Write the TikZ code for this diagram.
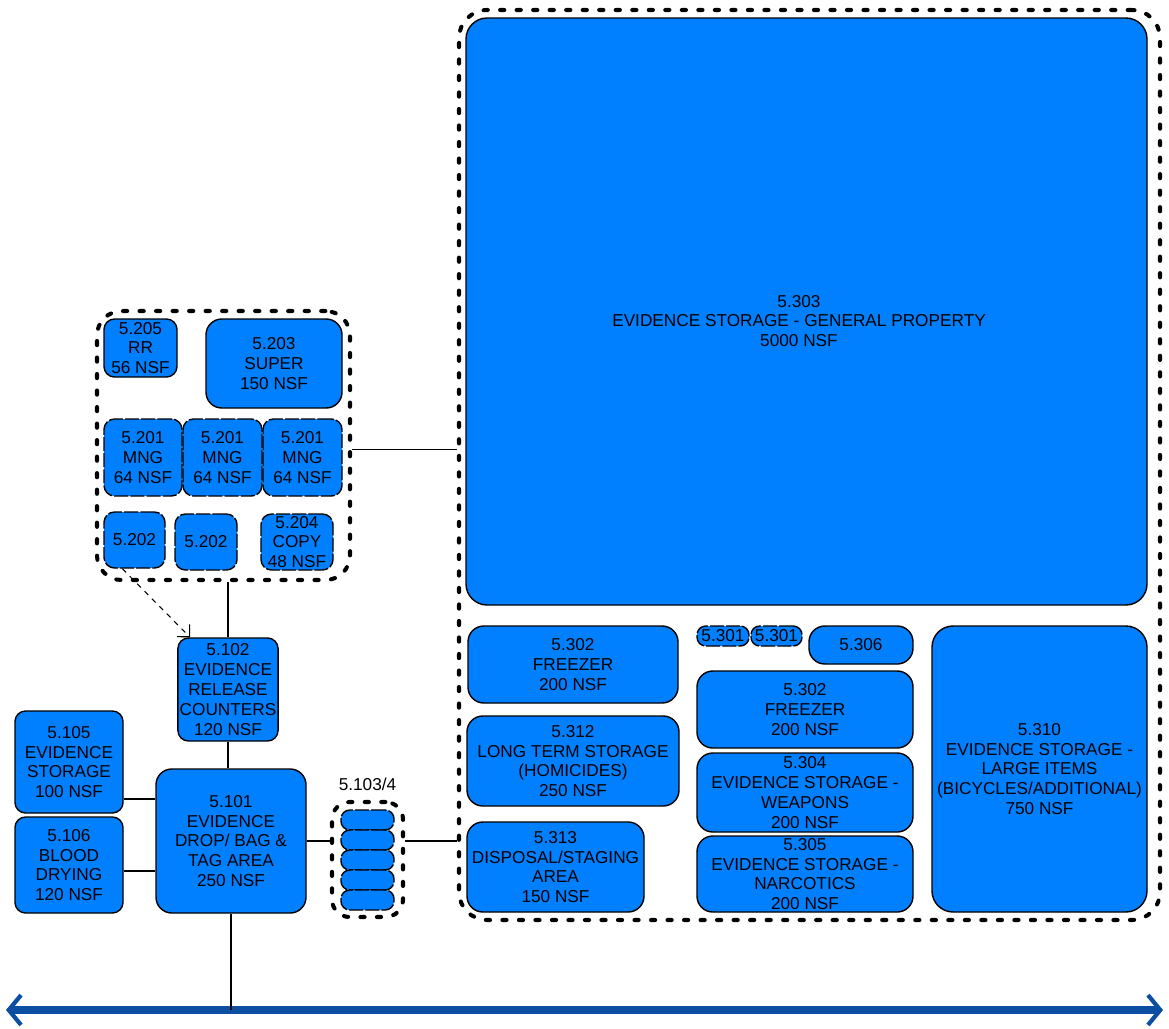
\documentclass[tikz,border=0pt]{standalone}
\usepackage{fontspec}
\setmainfont{Liberation Sans}
\usetikzlibrary{arrows.meta}

\definecolor{roomblue}{HTML}{0080FF}
\definecolor{roadblue}{HTML}{0B4EA2}

\newdimen\unitpx
\unitpx=0.02cm

\begin{document}
\begin{tikzpicture}[
  x=0.02cm, y=-0.02cm,
  font=\fontsize{9.8}{11.3}\selectfont,
  room/.style={draw,fill=roomblue,line width=0.8pt,rounded corners=6pt,align=center,inner sep=1pt},
  ]
  \tikzset{%
    split room/.style={
      room,
      dash pattern=on 8pt off 1.2pt,
    },
    zone/.style={
      draw,
      line width=2.3pt,
      line cap=round,
      dash pattern=on 2.4pt off 7pt,
      rounded corners=14pt,
    },
    road/.style={
      draw=roadblue,
      line width=5pt,
      >={Straight Barb[length=7pt,width=17pt,line width=2.4pt]},
      <->,
    },
  }
  \useasboundingbox (0,0) rectangle (1169,1028);
  %Nodes 5.2xx
  \node[room,minimum width=73\unitpx,minimum height=58\unitpx] (r205) at (140.5,348) {5.205\\RR\\56 NSF};
  \node[room,minimum width=136\unitpx,minimum height=89\unitpx,rounded corners=9pt] (r203) at (274,363.5) {5.203\\SUPER\\150 NSF};
  \node[split room,minimum width=78\unitpx,minimum height=77\unitpx] (r201a) at (143,457.5) {5.201\\MNG\\64 NSF};
  \node[split room,minimum width=79\unitpx,minimum height=77\unitpx] (r201b) at (222.5,457.5) {5.201\\MNG\\64 NSF};
  \node[split room,minimum width=79\unitpx,minimum height=77\unitpx] (r201c) at (302.5,457.5) {5.201\\MNG\\64 NSF};
  \node[split room,minimum width=61\unitpx,minimum height=56\unitpx] (r202a) at (134.5,540) {5.202};
  \node[split room,minimum width=62\unitpx,minimum height=56\unitpx] (r202b) at (206,542) {5.202};
  \node[split room,minimum width=72\unitpx,minimum height=56\unitpx] (r204) at (297,542) {5.204\\COPY\\48 NSF};
  \node[zone,minimum width=253\unitpx,minimum height=269\unitpx] (g2) at (223.5,445.5) {};
  %Nodes 5.1xx
  \node[room,minimum width=100\unitpx,minimum height=103\unitpx] (r102) at (228,689.5) {5.102\\EVIDENCE\\RELEASE\\COUNTERS\\120 NSF};
  \node[room,minimum width=150\unitpx,minimum height=144\unitpx,rounded corners=9pt] (r101) at (231,841) {5.101\\EVIDENCE\\DROP/ BAG \&\\TAG AREA\\250 NSF};
  \node[room,minimum width=108\unitpx,minimum height=102\unitpx] (r105) at (69,762) {5.105\\EVIDENCE\\STORAGE\\100 NSF};
  \node[room,minimum width=108\unitpx,minimum height=96\unitpx] (r106) at (69,865) {5.106\\BLOOD\\DRYING\\120 NSF};
  \node[zone,minimum width=71\unitpx,minimum height=115\unitpx,rounded corners=10pt,label={[label distance=2pt]above:5.103/4}] (g1) at (367.5,859.5) {};
  \foreach \i in {1,...,5}
    \node[split room,minimum width=53\unitpx,minimum height=20\unitpx,rounded corners=5pt] (p\i) at (367.5,{800+20*\i}) {};
  %Nodes 5.3xx
  \node[zone,minimum width=701\unitpx,minimum height=910\unitpx,rounded corners=16pt] (g3) at (809.5,465) {};
  \node[room,minimum width=681\unitpx,minimum height=587\unitpx,rounded corners=12pt] (r303) at (806.5,311.5) {};
  \node[align=center] (t303) at (799,321) {5.303\\EVIDENCE STORAGE - GENERAL PROPERTY\\5000 NSF};
  \node[room,minimum width=210\unitpx,minimum height=77\unitpx,rounded corners=9pt] (r302a) at (573,664.5) {5.302\\FREEZER\\200 NSF};
  \node[room,minimum width=212\unitpx,minimum height=90\unitpx,rounded corners=9pt] (r312) at (573,761) {5.312\\LONG TERM STORAGE\\(HOMICIDES)\\250 NSF};
  \node[room,minimum width=177\unitpx,minimum height=90\unitpx,rounded corners=9pt] (r313) at (555.5,867) {5.313\\DISPOSAL/STAGING\\AREA\\150 NSF};
  \node[split room,minimum width=52\unitpx,minimum height=20\unitpx,rounded corners=5pt] (r301a) at (723,636) {5.301};
  \node[split room,minimum width=51\unitpx,minimum height=20\unitpx,rounded corners=5pt] (r301b) at (776.5,636) {5.301};
  \node[room,minimum width=104\unitpx,minimum height=38\unitpx,rounded corners=9pt] (r306) at (861,645) {5.306};
  \node[room,minimum width=216\unitpx,minimum height=77\unitpx,rounded corners=9pt] (r302b) at (805,709.5) {5.302\\FREEZER\\200 NSF};
  \node[room,minimum width=216\unitpx,minimum height=79\unitpx,rounded corners=9pt] (r304) at (805,792.5) {5.304\\EVIDENCE STORAGE -\\WEAPONS\\200 NSF};
  \node[room,minimum width=216\unitpx,minimum height=76\unitpx,rounded corners=9pt] (r305) at (805,874) {5.305\\EVIDENCE STORAGE -\\NARCOTICS\\200 NSF};
  \node[room,minimum width=215\unitpx,minimum height=286\unitpx,rounded corners=12pt] (r310) at (1039.5,769) {5.310\\EVIDENCE STORAGE -\\LARGE ITEMS\\(BICYCLES/ADDITIONAL)\\750 NSF};
  %Road
  \coordinate (w) at (6,1010);
  \coordinate (e) at (1163,1010);
  \draw[road] (w) -- (e);
  %Lines
  \draw[line width=1pt]
    ([yshift=-2.3pt]g2.east) -- ([yshift=-2.3pt]g2.east -| g3.west)
    (r102.north |- g2.south) -- (r102.north)
    (r102.south) -- (r102.south |- r101.north)
    (r105.east) ++(0,37) coordinate (a105) -- (a105 -| r101.west)
    (r106.east) ++(0,6) coordinate (a106) -- (a106 -| r101.west)
    (r101.east) -- (r101.east -| g1.west)
    (r101.east -| g1.east) -- (r101.east -| g3.west)
    (r101.south) -- (r101.south |- w)
    ;
  \draw[line width=0.6pt,dash pattern=on 3pt off 3pt,-{Straight Barb[length=5pt,width=10pt]}]
    (r202a.247) -- (r102.126);
\end{tikzpicture}
\end{document}
